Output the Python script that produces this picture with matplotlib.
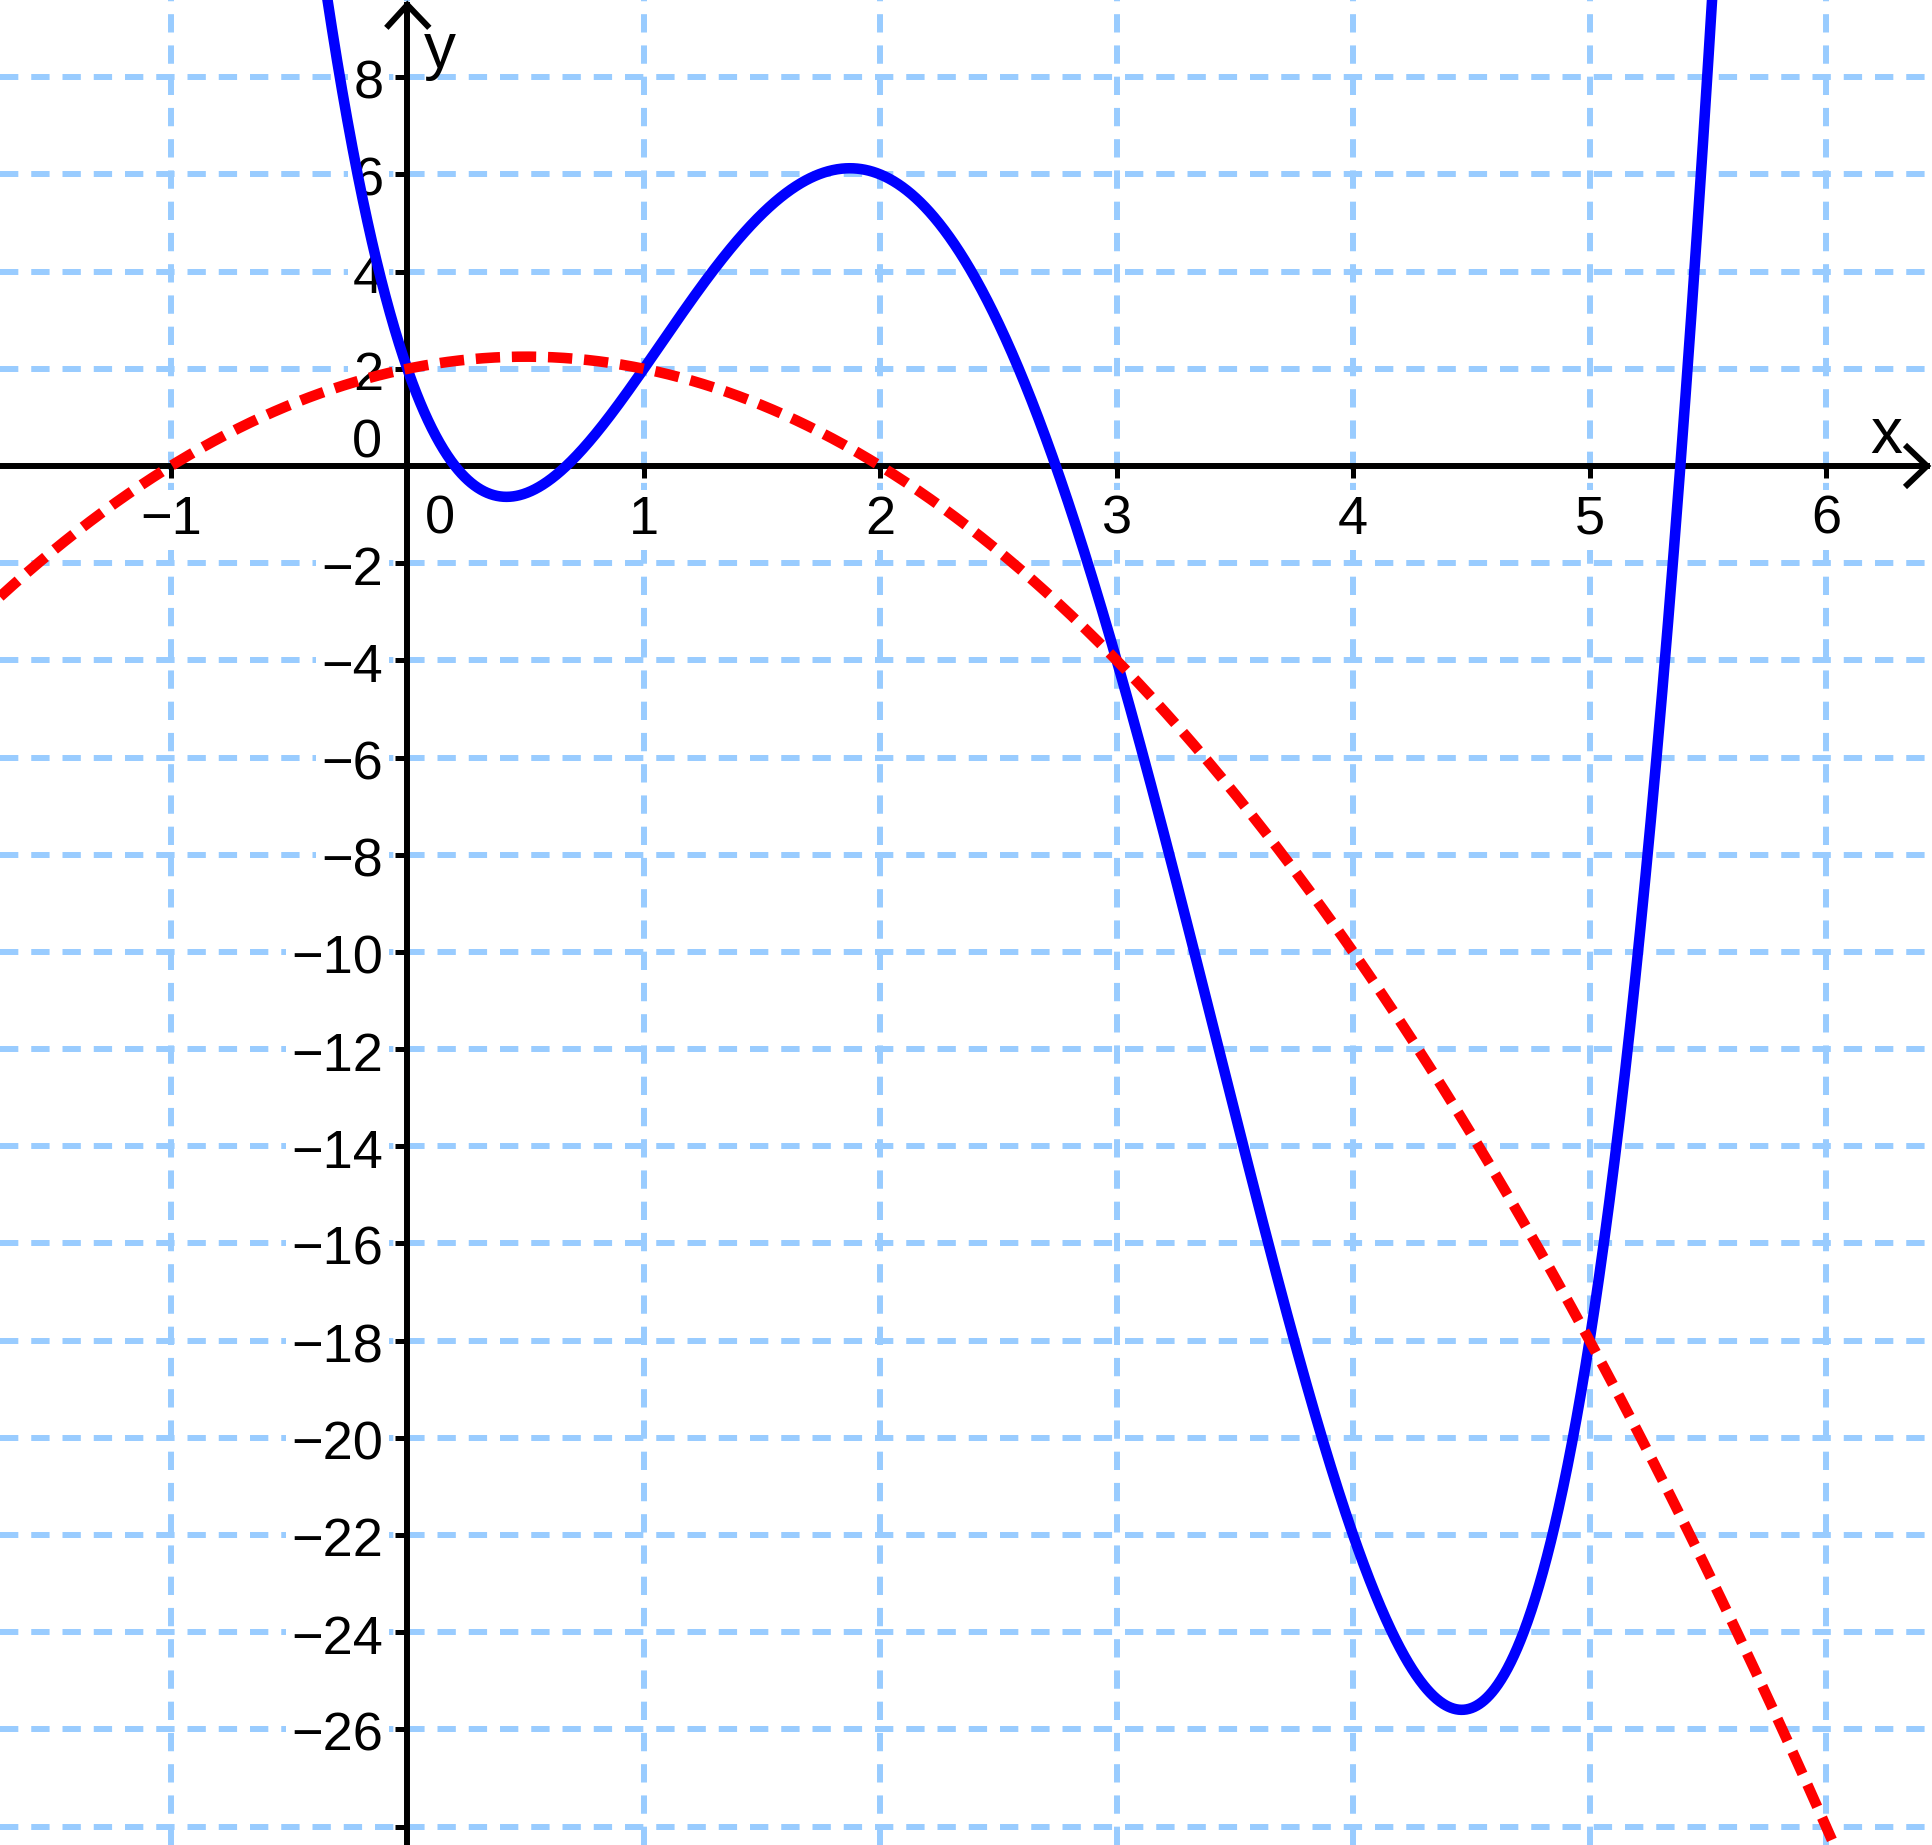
import numpy as np
import matplotlib
matplotlib.use("Agg")
import matplotlib.pyplot as plt
import matplotlib.transforms as mtransforms

plt.rcParams['font.family'] = ['Liberation Sans', 'DejaVu Sans']
plt.rcParams['lines.scale_dashes'] = False

# ---- data ----
# blue curve: quartic, coefficients (highest power first)
blue_coeffs = [1, -9, 22, -14, 2]
# red dashed curve: parabola, coefficients (highest power first)
red_coeffs = [-1, 1, 2]

x_ticks = [-1, 0, 1, 2, 3, 4, 5, 6]
y_ticks = [-28, -26, -24, -22, -20, -18, -16, -14, -12, -10, -8, -6, -4, -2,
           0, 2, 4, 6, 8]
x_label_vals = [-1, 1, 2, 3, 4, 5, 6]
x_label_text = ['\u22121', '1', '2', '3', '4', '5', '6']
y_label_vals = [-26, -24, -22, -20, -18, -16, -14, -12, -10, -8, -6, -4, -2,
                2, 4, 6, 8]
y_label_text = ['\u221226', '\u221224', '\u221222', '\u221220', '\u221218',
                '\u221216', '\u221214', '\u221212', '\u221210', '\u22128',
                '\u22126', '\u22124', '\u22122', '2', '4', '6', '8']

# ---- view window ----
XMIN, XMAX = -1.7227, 6.4525
YMIN, YMAX = -28.38, 9.59
X_TIP, Y_TIP = 6.427, 9.49

GRID = '#99CCFF'
BLUE = '#0000FF'
RED = '#FF0000'

fig = plt.figure(figsize=(19.33, 18.45), dpi=100)
ax = fig.add_axes([0, 0, 1, 1])
ax.set_xlim(XMIN, XMAX)
ax.set_ylim(YMIN, YMAX)
ax.set_facecolor('white')

# grid
ax.set_xticks(x_ticks)
ax.set_yticks(y_ticks)
ax.grid(True, color=GRID, linewidth=4.3, linestyle=(0, (13.2, 9.3)))
ax.set_axisbelow(True)

# spines as axes through origin
for s in ['top', 'right']:
    ax.spines[s].set_visible(False)
ax.spines['left'].set_position(('data', 0))
ax.spines['bottom'].set_position(('data', 0))
ax.spines['left'].set_bounds(YMIN, Y_TIP)
ax.spines['bottom'].set_bounds(XMIN, X_TIP)
for s in ['left', 'bottom']:
    ax.spines[s].set_linewidth(4.3)
    ax.spines[s].set_color('black')
    ax.spines[s].set_zorder(3)
ax.tick_params(direction='out', length=8.6, width=3.6, color='black',
               labelbottom=False, labelleft=False)

# arrow heads
tx = mtransforms.Affine2D() + mtransforms.ScaledTranslation(X_TIP, 0, ax.transData)
ty = mtransforms.Affine2D() + mtransforms.ScaledTranslation(0, Y_TIP, ax.transData)
ax.plot([-22, 0, -22], [21, 0, -21], transform=tx, color='black', lw=4.3,
        solid_joinstyle='miter', solid_capstyle='butt', clip_on=False, zorder=3)
ax.plot([-21, 0, 22], [-23, 0, -23], transform=ty, color='black', lw=4.3,
        solid_joinstyle='miter', solid_capstyle='butt', clip_on=False, zorder=3)

# tick labels
bbox = dict(boxstyle='square,pad=0.1', fc='white', ec='none')
FS = 39
for xv, lab in zip(x_label_vals, x_label_text):
    ax.annotate(lab, xy=(xv, 0), xytext=(0, -68), textcoords='offset pixels',
                ha='center', va='baseline', fontsize=FS, zorder=1.6, bbox=bbox)
ax.annotate('0', xy=(0, 0), xytext=(33, -68), textcoords='offset pixels',
            ha='center', va='baseline', fontsize=FS, zorder=1.6, bbox=bbox)
for yv, lab in zip(y_label_vals, y_label_text):
    ax.annotate(lab, xy=(0, yv), xytext=(-24, -21.5), textcoords='offset pixels',
                ha='right', va='baseline', fontsize=FS, zorder=1.6, bbox=bbox)
ax.annotate('0', xy=(0, 0), xytext=(-25, 8), textcoords='offset pixels',
            ha='right', va='baseline', fontsize=FS, zorder=1.6, bbox=bbox)

# axis names
ax.annotate('x', xy=(X_TIP, 0), xytext=(-57, 13), textcoords='offset pixels',
            ha='left', va='baseline', fontsize=46, zorder=3)
ax.annotate('y', xy=(0, Y_TIP), xytext=(16, -63), textcoords='offset pixels',
            ha='left', va='baseline', fontsize=46, zorder=3)

# curves
xs = np.linspace(XMIN, XMAX, 3000)
ax.plot(xs, np.polyval(blue_coeffs, xs), color=BLUE, lw=7.6, zorder=4)
ax.plot(xs, np.polyval(red_coeffs, xs), color=RED, lw=7.6,
        linestyle=(0, (17.5, 8.5)), dash_capstyle='butt', zorder=5)

fig.savefig('out.png', dpi=100, facecolor='white')
